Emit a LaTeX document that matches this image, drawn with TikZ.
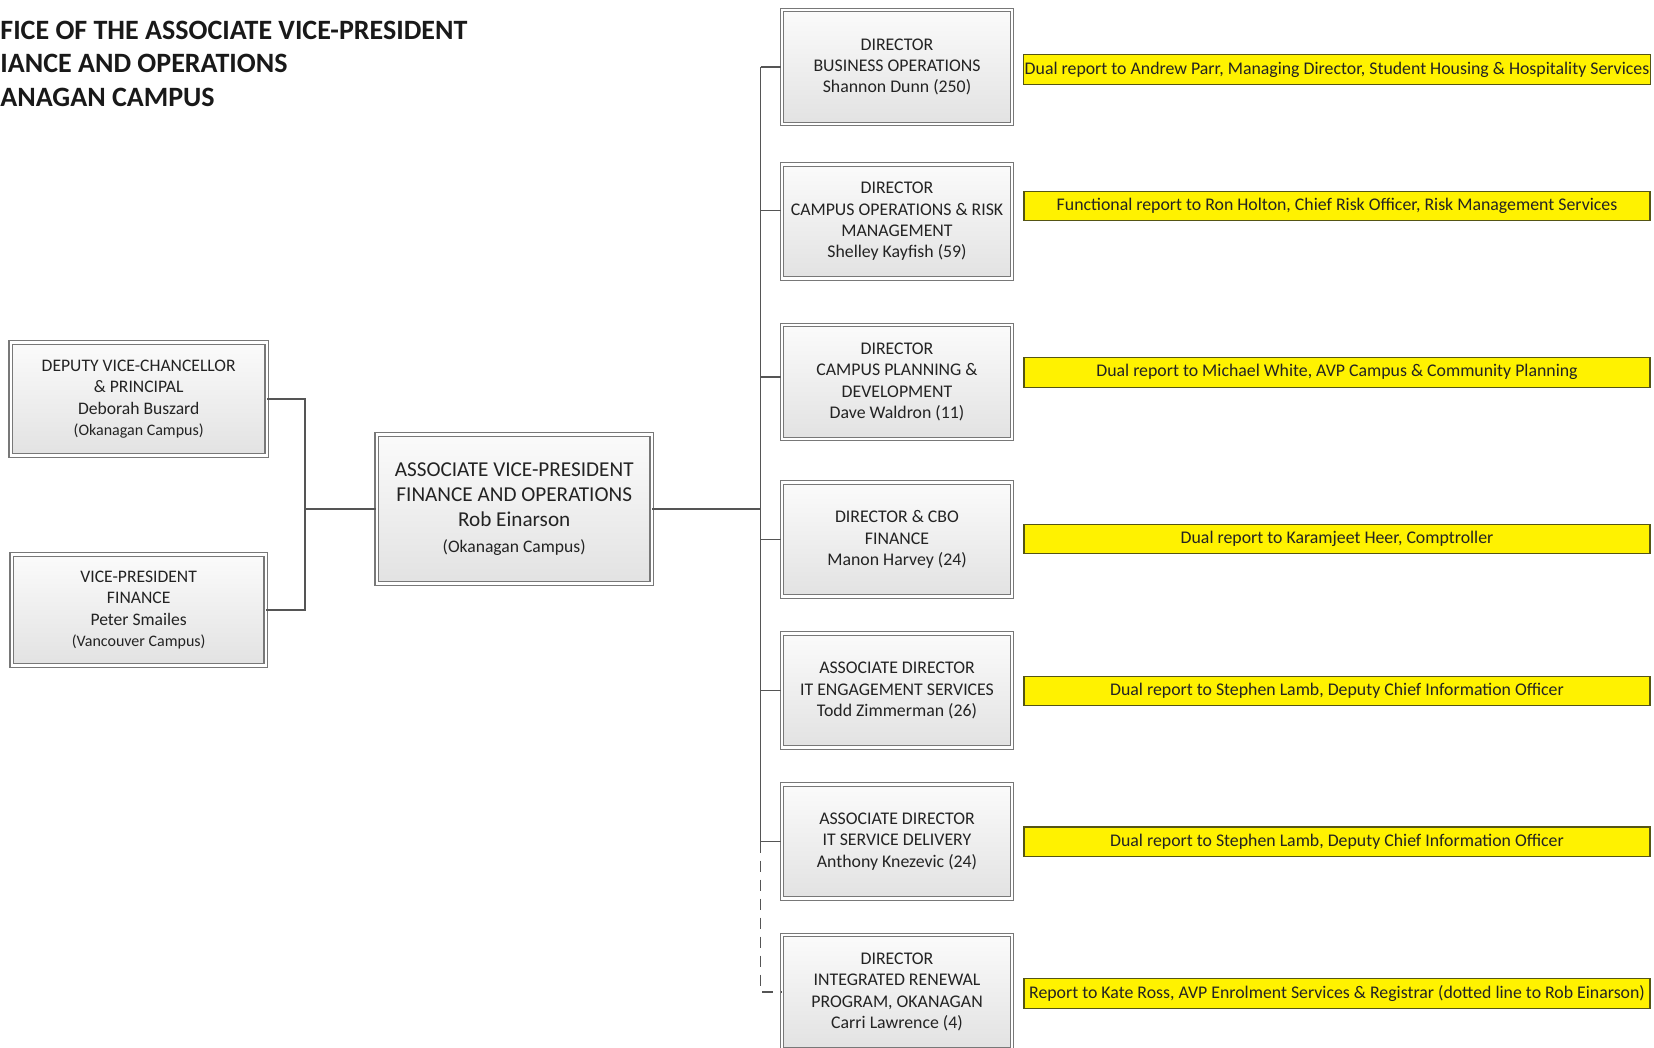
\documentclass[tikz,border=0pt]{standalone}
\usepackage{fontspec}
\setmainfont{Carlito}
\usetikzlibrary{shadows}

\definecolor{boxline}{RGB}{120,120,120}
\definecolor{boxfillA}{RGB}{251,251,251}
\definecolor{boxfillB}{RGB}{226,226,226}
\definecolor{linkgray}{RGB}{85,85,85}
\definecolor{noteframe}{RGB}{85,85,20}
\definecolor{inkgray}{RGB}{35,35,35}

\begin{document}
\begin{tikzpicture}
[x=0.5pt,y=-0.5pt,%
  orgbox/.style={rectangle,draw=boxline,line width=0.55pt,double=white,double distance=1.2pt,%
    top color=boxfillA,bottom color=boxfillB,align=center,text=inkgray,inner sep=2pt,%
    minimum width=115pt,minimum height=57pt,font=\fontsize{8.9}{10.7}\selectfont,%
    drop shadow={shadow xshift=1.2pt,shadow yshift=-1.2pt,opacity=0.18}},%
  notebox/.style={rectangle,draw=noteframe,line width=0.6pt,fill=yellow,inner xsep=0.5pt,inner ysep=1pt,%
    minimum width=313pt,minimum height=14.8pt,text=inkgray,font=\fontsize{8.9}{10}\selectfont},%
  conn/.style={draw=linkgray,line width=0.7pt},%
  titleline/.style={anchor=base west,inner sep=0pt,text=black!90,font=\bfseries\fontsize{14}{16}\selectfont}]
\useasboundingbox (0,0) rectangle (1654,1048);

% heading (cut at the left edge)
\node[titleline] (t1) at (0,39.5) {FICE OF THE ASSOCIATE VICE-PRESIDENT};
\node[titleline] (t2) at (0,73) {IANCE AND OPERATIONS};
\node[titleline] (t3) at (0,107) {ANAGAN CAMPUS};

% reports to
\node[orgbox,minimum width=128pt,minimum height=56.5pt,font=\fontsize{8.8}{10.7}\selectfont] (dvc) at (138.7,399)
  {DEPUTY VICE-CHANCELLOR\\ \& PRINCIPAL\\ Deborah Buszard\\ {\fontsize{8}{10.7}\selectfont (Okanagan Campus)}};
\node[orgbox,minimum width=127pt,minimum height=55.5pt,font=\fontsize{8.8}{10.7}\selectfont] (vpf) at (138.7,610)
  {VICE-PRESIDENT\\ FINANCE\\ Peter Smailes\\ {\fontsize{8}{10.7}\selectfont (Vancouver Campus)}};
\node[orgbox,minimum width=137.5pt,minimum height=74.5pt,font=\fontsize{10.6}{12.6}\selectfont] (avp) at (514.2,509)
  {ASSOCIATE VICE-PRESIDENT\\ FINANCE AND OPERATIONS\\ Rob Einarson\\ {\fontsize{8.8}{12.2}\selectfont (Okanagan Campus)}};

% direct reports
\node[orgbox] (biz) at (897,67) {DIRECTOR\\ BUSINESS OPERATIONS\\ Shannon Dunn (250)};
\node[orgbox] (cops) at (897,221.5) {DIRECTOR\\ CAMPUS OPERATIONS \& RISK\\ MANAGEMENT\\ Shelley Kayfish (59)};
\node[orgbox] (cpd) at (897,382) {DIRECTOR\\ CAMPUS PLANNING \&\\ DEVELOPMENT\\ Dave Waldron (11)};
\node[orgbox] (fin) at (897,539.5) {DIRECTOR \& CBO\\ FINANCE\\ Manon Harvey (24)};
\node[orgbox] (ites) at (897,690.5) {ASSOCIATE DIRECTOR\\ IT ENGAGEMENT SERVICES\\ Todd Zimmerman (26)};
\node[orgbox] (itsd) at (897,841.5) {ASSOCIATE DIRECTOR\\ IT SERVICE DELIVERY\\ Anthony Knezevic (24)};
\node[orgbox] (irp) at (897,992) {DIRECTOR\\ INTEGRATED RENEWAL\\ PROGRAM, OKANAGAN\\ Carri Lawrence (4)};

% notes
\node[notebox] (bizN) at (1337,69.6) {Dual report to Andrew Parr, Managing Director, Student Housing \& Hospitality Services};
\node[notebox] (copsN) at (1337,206) {Functional report to Ron Holton, Chief Risk Officer, Risk Management Services};
\node[notebox] (cpdN) at (1337,372.3) {Dual report to Michael White, AVP Campus \& Community Planning};
\node[notebox] (finN) at (1337,539) {Dual report to Karamjeet Heer, Comptroller};
\node[notebox] (itesN) at (1337,691) {Dual report to Stephen Lamb, Deputy Chief Information Officer};
\node[notebox] (itsdN) at (1337,841.7) {Dual report to Stephen Lamb, Deputy Chief Information Officer};
\node[notebox] (irpN) at (1337,993.6) {Report to Kate Ross, AVP Enrolment Services \& Registrar (dotted line to Rob Einarson)};

% lines
\coordinate (jl) at (304.8,509);
\coordinate (bus) at (760.5,509);
\draw[conn] (dvc.east) -| (jl) |- (vpf.east);
\draw[conn] (jl) -- (avp.west);
\draw[conn] (avp.east) -- (bus);
\draw[conn] (bus |- biz.west) -- (bus |- itsd.west);
\foreach \b/\s in {biz/0,cops/5.5,cpd/2.6,fin/0,ites/0,itsd/0}{
  \coordinate (br) at ([yshift=\s pt]\b.west);
  \draw[conn] (bus |- br) -- (br);
}
\draw[conn,dash pattern=on 5.5pt off 4pt] (bus |- itsd.west) -- (bus |- irp.west) -- (irp.west);
\end{tikzpicture}
\end{document}
